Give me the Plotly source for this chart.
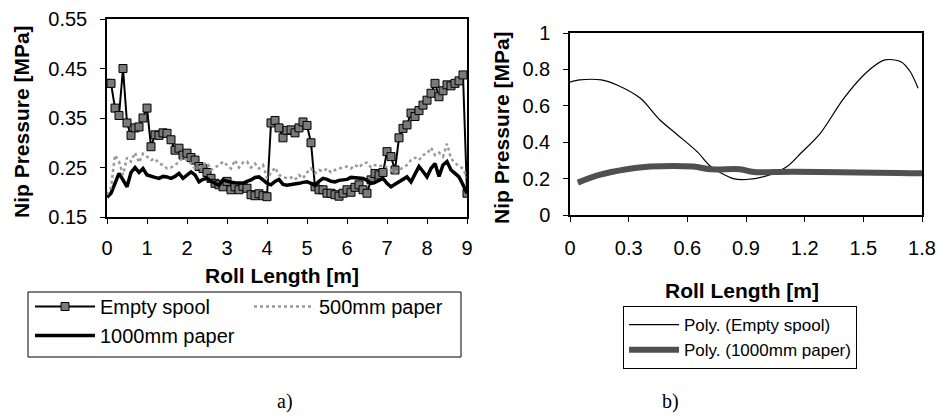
import plotly.graph_objects as go

W, H = 940, 416

# ---------------- data: chart a) ----------------
roll_a = [round(i * 0.1, 1) for i in range(91)]

empty_spool = [
    0.420, 0.420, 0.370, 0.355, 0.450, 0.340, 0.315, 0.330, 0.332, 0.350,
    0.370, 0.292, 0.316, 0.315, 0.320, 0.319, 0.306, 0.285, 0.289, 0.275,
    0.279, 0.270, 0.265, 0.252, 0.248, 0.240, 0.228, 0.218, 0.215, 0.211,
    0.222, 0.205, 0.211, 0.205, 0.212, 0.208, 0.195, 0.193, 0.197, 0.193,
    0.191, 0.340, 0.345, 0.330, 0.310, 0.325, 0.326, 0.320, 0.330, 0.342,
    0.335, 0.300, 0.211, 0.205, 0.205, 0.198, 0.198, 0.195, 0.192, 0.198,
    0.205, 0.200, 0.210, 0.215, 0.205, 0.198, 0.225, 0.238, 0.235, 0.240,
    0.282, 0.272, 0.245, 0.310, 0.329, 0.336, 0.360, 0.353, 0.365, 0.376,
    0.386, 0.400, 0.420, 0.393, 0.405, 0.417, 0.415, 0.420, 0.425, 0.437,
    0.198,
]

paper_500 = [
    0.195, 0.210, 0.275, 0.262, 0.235, 0.270, 0.262, 0.280, 0.260, 0.278,
    0.272, 0.265, 0.268, 0.258, 0.255, 0.248, 0.250, 0.255, 0.262, 0.270,
    0.265, 0.258, 0.248, 0.250, 0.255, 0.260, 0.245, 0.250, 0.255, 0.262,
    0.255, 0.248, 0.265, 0.250, 0.260, 0.262, 0.250, 0.258, 0.248, 0.255,
    0.228, 0.240, 0.250, 0.235, 0.232, 0.228, 0.230, 0.225, 0.235, 0.228,
    0.240, 0.248, 0.238, 0.245, 0.242, 0.248, 0.240, 0.245, 0.248, 0.250,
    0.252, 0.248, 0.255, 0.250, 0.258, 0.260, 0.250, 0.255, 0.252, 0.255,
    0.250, 0.245, 0.240, 0.245, 0.250, 0.255, 0.265, 0.270, 0.265, 0.275,
    0.278, 0.290, 0.275, 0.280, 0.272, 0.298, 0.268, 0.260, 0.252, 0.248,
    0.230,
]

paper_1000 = [
    0.190, 0.198, 0.218, 0.238, 0.225, 0.211, 0.240, 0.250, 0.240, 0.248,
    0.235, 0.232, 0.230, 0.228, 0.232, 0.231, 0.228, 0.232, 0.238, 0.228,
    0.235, 0.241, 0.235, 0.221, 0.226, 0.228, 0.222, 0.218, 0.214, 0.225,
    0.222, 0.220, 0.219, 0.218, 0.218, 0.222, 0.225, 0.230, 0.231, 0.225,
    0.218, 0.215, 0.222, 0.226, 0.216, 0.214, 0.215, 0.217, 0.218, 0.220,
    0.221, 0.218, 0.214, 0.222, 0.228, 0.226, 0.222, 0.221, 0.224, 0.225,
    0.226, 0.230, 0.229, 0.228, 0.228, 0.224, 0.218, 0.220, 0.225, 0.228,
    0.218, 0.211, 0.216, 0.221, 0.226, 0.231, 0.221, 0.235, 0.252, 0.242,
    0.231, 0.248, 0.258, 0.232, 0.255, 0.262, 0.245, 0.238, 0.231, 0.215,
    0.198,
]

# ---------------- data: chart b) ----------------
roll_b_empty = [0.0, 0.05, 0.16, 0.24, 0.36, 0.46, 0.55, 0.65, 0.72, 0.835,
                0.90, 1.02, 1.11, 1.18, 1.28, 1.40, 1.52, 1.61, 1.69, 1.74, 1.78]
poly_empty = [0.73, 0.742, 0.742, 0.714, 0.641, 0.522, 0.44, 0.348, 0.266, 0.20,
              0.195, 0.22, 0.266, 0.339, 0.449, 0.641, 0.787, 0.852, 0.843, 0.787, 0.696]

roll_b_1000 = [0.04, 0.15, 0.29, 0.41, 0.63, 0.72, 0.87, 0.94, 1.14, 1.80]
poly_1000 = [0.178, 0.22, 0.251, 0.266, 0.266, 0.251, 0.251, 0.236, 0.238, 0.229]

# ---------------- figure ----------------
FONT = "Liberation Sans, Arial, sans-serif"
SERIF = "Liberation Serif, Times New Roman, serif"

def px(x):
    return x / W

def py(y):
    return 1 - y / H

fig = go.Figure()

fig.add_trace(go.Scatter(
    x=roll_a, y=empty_spool, name="Empty spool", mode="lines+markers",
    line=dict(color="black", width=2),
    marker=dict(symbol="square", size=8, color="#7a7a7a",
                line=dict(color="black", width=1)),
    xaxis="x", yaxis="y", legend="legend"))
fig.add_trace(go.Scatter(
    x=roll_a, y=paper_1000, name="1000mm paper", mode="lines",
    line=dict(color="black", width=3.5),
    xaxis="x", yaxis="y", legend="legend"))
fig.add_trace(go.Scatter(
    x=roll_a, y=paper_500, name="500mm paper", mode="lines",
    line=dict(color="#9a9a9a", width=2.5, dash="dot"),
    xaxis="x", yaxis="y", legend="legend2"))

fig.add_trace(go.Scatter(
    x=roll_b_empty, y=poly_empty, name="Poly. (Empty spool)", mode="lines",
    line=dict(color="black", width=1.2, shape="spline", smoothing=0.8),
    xaxis="x2", yaxis="y2", legend="legend3"))
fig.add_trace(go.Scatter(
    x=roll_b_1000, y=poly_1000, name="Poly. (1000mm paper)", mode="lines",
    line=dict(color="#505050", width=6, shape="spline"),
    xaxis="x2", yaxis="y2", legend="legend3"))

axis_common = dict(
    showline=True, linecolor="black", linewidth=1.5, mirror=True,
    ticks="outside", ticklen=5, tickcolor="black", tickwidth=1,
    showgrid=False, zeroline=False, automargin=False,
    tickfont=dict(family=FONT, size=20, color="black"),
)

def label(text, x, y, size=21, family=FONT, angle=0):
    return dict(text=text, x=px(x), y=py(y), xref="paper", yref="paper",
                xanchor="center", yanchor="middle", showarrow=False,
                textangle=angle, font=dict(family=family, size=size, color="black"))

fig.update_layout(
    width=W, height=H,
    margin=dict(l=0, r=0, t=0, b=0, pad=0, autoexpand=False),
    paper_bgcolor="white", plot_bgcolor="white",
    font=dict(family=FONT, color="black"),
    xaxis=dict(domain=[px(107), px(467)], range=[0, 9], dtick=1,
               anchor="y", ticklabelstandoff=7, **axis_common),
    yaxis=dict(domain=[py(217), py(19)], range=[0.15, 0.55], dtick=0.1,
               tick0=0.15, tickformat=".2f", anchor="x",
               ticklabelstandoff=9, **axis_common),
    xaxis2=dict(domain=[px(570), px(922)], range=[0, 1.8], dtick=0.3,
                anchor="y2", ticklabelstandoff=9, **axis_common),
    yaxis2=dict(domain=[py(215), py(33)], range=[0, 1], dtick=0.2,
                anchor="x2", ticklabelstandoff=9, **axis_common),
    legend=dict(x=px(30), y=py(287), xanchor="left", yanchor="top",
                orientation="v", itemwidth=60, bgcolor="rgba(0,0,0,0)",
                font=dict(family=FONT, size=20, color="black"),
                tracegroupgap=0),
    legend2=dict(x=px(249), y=py(287), xanchor="left", yanchor="top",
                 orientation="v", itemwidth=60, bgcolor="rgba(0,0,0,0)",
                 font=dict(family=FONT, size=20, color="black")),
    legend3=dict(x=px(623), y=py(306), xanchor="left", yanchor="top",
                 orientation="v", itemwidth=50, bgcolor="white",
                 bordercolor="black", borderwidth=1,
                 font=dict(family=FONT, size=17, color="black")),
    shapes=[dict(type="rect", xref="paper", yref="paper",
                 x0=px(28), x1=px(461), y0=py(357), y1=py(292),
                 line=dict(color="black", width=1))],
    annotations=[
        label("<b>Nip Pressure [MPa]</b>", 21, 122, angle=-90),
        label("<b>Roll Length [m]</b>", 282, 275),
        label("<b>Nip Pressure [MPa]</b>", 501, 128, angle=-90),
        label("<b>Roll Length [m]</b>", 742, 290),
        label("a)", 285, 401, size=20, family=SERIF),
        label("b)", 670, 401, size=20, family=SERIF),
    ],
)

fig.write_html(
    "out.html",
    config={"displayModeBar": False},
    post_script="document.body.style.margin='0';document.body.style.overflow='hidden';",
)
